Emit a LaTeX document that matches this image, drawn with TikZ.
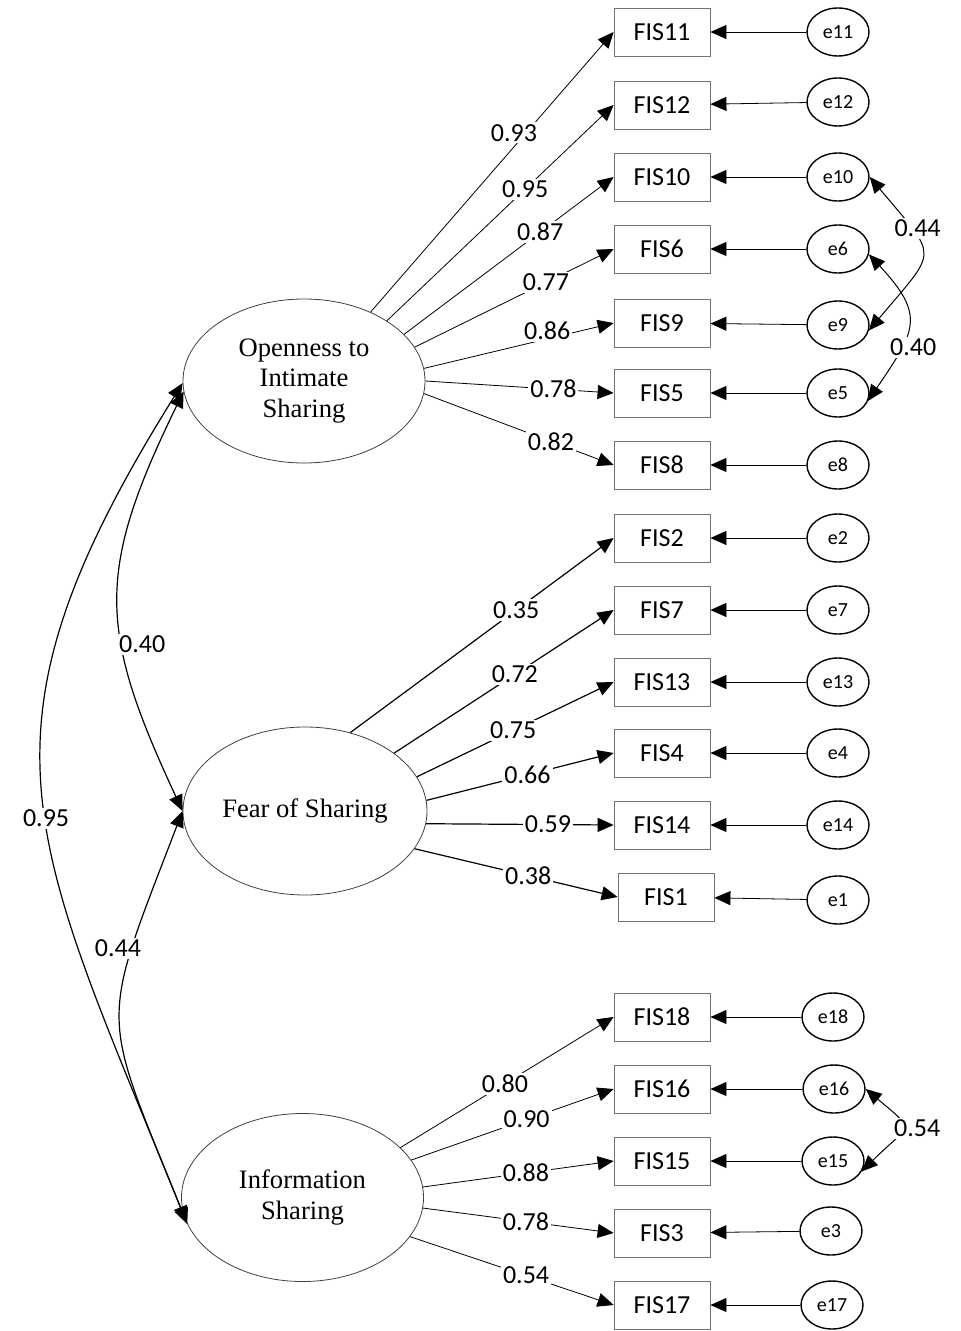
\documentclass[tikz,border=0pt]{standalone}
\usepackage{fontspec}
\setmainfont{Liberation Serif}
\newfontfamily\calib{Carlito}
\usetikzlibrary{arrows.meta,shapes.geometric}

\tikzset{
	latent/.style={draw=black!75,ellipse,minimum width=121pt,minimum height=82pt,inner sep=0pt,align=center,font=\fontsize{13.3}{15.3}\selectfont},
	item/.style={draw=black!55,rectangle,minimum width=48pt,minimum height=24pt,inner sep=0pt,font=\calib\fontsize{13}{15}\selectfont},
	err/.style={draw,ellipse,line width=0.7pt,minimum width=31pt,minimum height=24pt,inner sep=0pt,font=\calib\fontsize{10}{12}\selectfont},
	coef/.style={fill=white,inner sep=1pt,font=\calib\fontsize{13}{15}\selectfont},
	tip/.tip={Triangle[length=8pt,width=7pt]},
	load/.style={-tip},
	cov/.style={tip-tip,line width=0.6pt},
}

\begin{document}
\begin{tikzpicture}[x=0.5pt,y=0.5pt]
	\useasboundingbox (0,0) rectangle (961,-1331);
	\node[latent] (ois) at (304,-381) {Openness to\\Intimate\\Sharing};
	\node[latent,minimum width=122pt,minimum height=84pt] (fos) at (305,-811) {Fear of Sharing};
	\node[latent,minimum height=84pt] (is) at (302.5,-1197.5) {Information\\Sharing};
	\foreach \i/\bx/\y/\ex/\ey in {11/662/32/838/32, 12/662/105/838/102, 10/662/177/838/177, 6/662/249/838/249, 9/662/323/838/325, 5/662/393/838/393, 8/662/465/838/465, 2/662/538/838/538, 7/662/610/838/610, 13/662/682/838/682, 4/662/753/838/753, 14/662/825/838/825, 1/666/897/838/900, 18/662/1017/833/1017, 16/662/1089/834/1089, 15/662/1161/833/1161, 3/662/1233/831/1231, 17/662/1305/832/1305}{
		\node[item] (fis\i) at (\bx,-\y) {FIS\i};
		\node[err] (e\i) at (\ex,-\ey) {e\i};
		\draw[load] (e\i) -- (fis\i);
	}
	\draw[load] (ois.46) -- node[coef,pos=0.59,yshift=7pt] {0.93} (fis11.west);
	\draw[load] (ois.36) -- node[coef,pos=0.61] {0.95} (fis12.west);
	\draw[load] (ois.25) -- node[coef,pos=0.65] {0.87} (fis10.west);
	\draw[load] (ois.17) -- node[coef,pos=0.66] {0.77} (fis6.west);
	\draw[load] (ois.6) -- node[coef,pos=0.65,yshift=4pt] {0.86} (fis9.west);
	\draw[load] (ois.0) -- node[coef,pos=0.68] {0.78} (fis5.west);
	\draw[load] (ois.-6) -- node[coef,pos=0.67] {0.82} (fis8.west);
	\draw[load,line width=0.6pt] (fos.60) -- node[coef,pos=0.63] {0.35} (fis2.west);
	\draw[load,line width=0.6pt] (fos.33) -- node[coef,pos=0.55] {0.72} (fis7.west);
	\draw[load,line width=0.6pt] (fos.17) -- node[coef,pos=0.49] {0.75} (fis13.west);
	\draw[load,line width=0.6pt] (fos.5) -- node[coef,pos=0.54] {0.66} (fis4.west);
	\draw[load,line width=0.6pt] (fos.-6) -- node[coef,pos=0.65] {0.59} (fis14.west);
	\draw[load,line width=0.6pt] (fos.-19) -- node[coef,pos=0.56] {0.38} (fis1.west);
	\draw[load] (is.27) -- node[coef,pos=0.49] {0.80} (fis18.west);
	\draw[load] (is.19) -- node[coef,pos=0.57] {0.90} (fis16.west);
	\draw[load] (is.5) -- node[coef,pos=0.54] {0.88} (fis15.west);
	\draw[load] (is.-5) -- node[coef,pos=0.54] {0.78} (fis3.west);
	\draw[load] (is.-20) -- node[coef,pos=0.57] {0.54} (fis17.west);
	\draw[cov] (ois.181) to[out=-122,in=112,looseness=1.27] node[coef,pos=0.54] {0.95} (is.192);
	\draw[cov] (ois.185) to[out=-116,in=115,looseness=1.22] node[coef,pos=0.62,xshift=10pt] {0.40} (fos.180);
	\draw[cov] (fos.180) to[out=-111,in=112,looseness=1.45] node[coef,pos=0.28,xshift=-7pt] {0.44} (is.193);
	\draw[cov,line width=0.5pt] (e10.east) to[out=-50,in=50,looseness=1.8] node[coef,pos=0.28,xshift=3pt] {0.44} (e9.-10);
	\draw[cov,line width=0.5pt] (e6.-10) to[out=-47,in=56,looseness=1.47] node[coef,pos=0.68,xshift=6pt] {0.40} (e5.-15);
	\draw[cov,line width=0.5pt] (e16.east) to[out=-40,in=45,looseness=2.1] node[coef,pos=0.5,xshift=8pt] {0.54} (e15.-20);
\end{tikzpicture}
\end{document}
